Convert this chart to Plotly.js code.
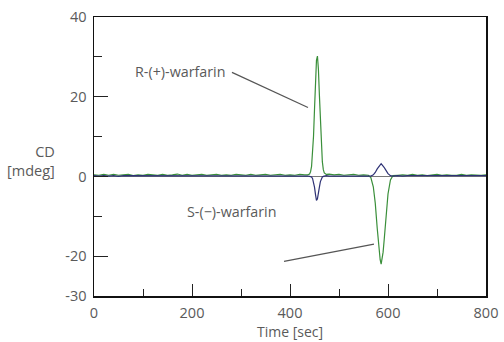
<!DOCTYPE html>
<html>
<head>
<meta charset="utf-8">
<script src="https://cdn.plot.ly/plotly-3.0.1.min.js"></script>
<style>html,body{margin:0;padding:0;background:#fff;}#chart{width:504px;height:342px;}</style>
</head>
<body>
<div id="chart"></div>
<script>
// Time axis (sec)
const timeSec = [
  0,10,20,30,40,50,60,70,80,90,100,110,120,130,140,150,160,170,180,190,200,210,220,230,240,250,260,270,280,290,300,310,320,330,340,350,360,370,380,390,400,410,420,430,
  436,440,442,444,446,448,450,452,454,456,458,460,462,464,466,468,470,474,480,
  490,500,510,520,530,540,550,560,
  565,570,574,578,580,582,584,586,588,590,592,594,596,600,605,610,
  620,630,640,650,660,670,680,690,700,710,720,730,740,750,760,770,780,790,800
];
// Green trace (CD, mdeg)
const greenCD = [
  0.4,0.3,0.5,0.3,0.5,0.3,0.4,0.5,0.2,0.4,
  0.3,0.5,0.4,0.3,0.5,0.3,0.4,0.6,0.3,0.5,
  0.3,0.4,0.5,0.3,0.4,0.5,0.3,0.4,0.3,0.5,
  0.4,0.3,0.5,0.3,0.4,0.5,0.3,0.4,0.5,0.3,
  0.4,0.3,0.5,0.4,
  0.4,0.6,1.2,2.5,5.3,10.1,16.8,23.9,29.1,30.2,26.9,20.4,13.3,7.5,3.7,1.7,0.9,0.5,0.6,
  0.4,0.5,0.3,0.4,0.5,0.3,0.4,0.3,
  -0.3,-2.6,-6.7,-13.0,-16.2,-19.0,-20.9,-22.0,-20.6,-19.0,-16.2,-13.0,-9.7,-4.4,-0.9,0.2,
  0.3,0.4,0.3,0.5,0.3,0.4,0.2,0.3,0.5,0.3,0.4,0.3,0.3,0.5,0.3,0.4,0.3,0.3,0.4
];
// Navy trace (CD, mdeg)
const navyCD = [
  0.2,0.1,0.2,0.1,0.2,0.0,0.2,0.2,0.1,0.1,
  0.2,0.1,0.2,0.1,0.2,0.1,0.1,0.2,0.1,0.2,
  0.1,0.2,0.1,0.2,0.1,0.2,0.1,0.2,0.2,0.1,
  0.2,0.1,0.1,0.2,0.2,0.1,0.2,0.1,0.1,0.2,
  0.1,0.2,0.1,0.2,
  0.1,0.0,-0.05,-0.15,-0.5,-1.3,-2.7,-4.5,-6.0,-5.6,-4.5,-2.7,-1.3,-0.5,-0.15,0.0,0.1,0.2,0.1,
  0.1,0.2,0.1,0.2,0.1,0.2,0.1,0.2,
  0.1,0.4,1.0,1.9,2.3,2.7,3.0,3.2,2.9,2.7,2.3,1.9,1.4,0.7,0.2,0.1,
  0.2,0.1,0.2,0.2,0.1,0.2,0.2,0.1,0.2,0.2,0.1,0.2,0.2,0.1,0.2,0.2,0.2,0.1,0.2
];
const xTickVals = [0,200,400,600,800];
const xMinorVals = [100,300,500,700];
const yTickVals = [-30,-20,0,20,40];
const yMinorVals = [-10,10,30];
const labelR = "R-(+)-warfarin";
const labelS = "S-(\u2212)-warfarin";

const FONT = "Open Sans, DejaVu Sans, sans-serif";
const GRAY = "#5a5a5a";

const traces = [
  {x: timeSec, y: greenCD, type: "scatter", mode: "lines",
   line: {color: "#3a8f3a", width: 1.2}, hoverinfo: "skip"},
  {x: timeSec, y: navyCD, type: "scatter", mode: "lines",
   line: {color: "#2e3275", width: 1.2}, hoverinfo: "skip"}
];

const layout = {
  width: 504, height: 342,
  margin: {l: 94, r: 18, t: 17, b: 45.5},
  paper_bgcolor: "#fff", plot_bgcolor: "#fff",
  showlegend: false,
  font: {family: FONT, color: GRAY, size: 14.5},
  xaxis: {
    range: [0, 800], tickvals: xTickVals, ticktext: xTickVals.map(String),
    ticks: "inside", ticklen: 12, tickwidth: 1, tickcolor: "#222",
    minor: {tickvals: xMinorVals, ticks: "inside", ticklen: 7, tickwidth: 1, tickcolor: "#222"},
    showline: true, linecolor: "#111", linewidth: 1.5, mirror: true,
    showgrid: false, zeroline: false,
    tickfont: {family: FONT, color: GRAY, size: 14.5},
    ticklabelstandoff: 3,
    title: {text: "Time [sec]", font: {family: FONT, color: GRAY, size: 14}, standoff: 4}
  },
  yaxis: {
    range: [-30, 40], tickvals: yTickVals, ticktext: yTickVals.map(String),
    ticks: "inside", ticklen: 14, tickwidth: 1, tickcolor: "#222",
    minor: {tickvals: yMinorVals, ticks: "inside", ticklen: 8, tickwidth: 1, tickcolor: "#222"},
    showline: true, linecolor: "#111", linewidth: 1.5, mirror: true,
    showgrid: false, zeroline: true, zerolinecolor: "#777", zerolinewidth: 1,
    tickfont: {family: FONT, color: GRAY, size: 14.5},
    ticklabelstandoff: 3
  },
  shapes: [
    {type: "line", xref: "x", yref: "y", x0: 281.6, y0: 26.1, x1: 436.7, y1: 17.3,
     line: {color: "#555", width: 1.2}},
    {type: "line", xref: "x", yref: "y", x0: 387.8, y0: -21.3, x1: 571.4, y1: -17.0,
     line: {color: "#555", width: 1.2}}
  ],
  annotations: [
    {text: labelR, xref: "x", yref: "y", x: 175.5, y: 26.3, showarrow: false,
     xanchor: "center", yanchor: "middle", font: {family: FONT, color: GRAY, size: 14.3}},
    {text: labelS, xref: "x", yref: "y", x: 281.6, y: -8.8, showarrow: false,
     xanchor: "center", yanchor: "middle", font: {family: FONT, color: GRAY, size: 14.3}},
    {text: "CD<br>[mdeg]", xref: "paper", yref: "y", x: -0.095, y: 3.8, showarrow: false,
     xanchor: "right", yanchor: "middle", align: "right",
     font: {family: FONT, color: GRAY, size: 14.5}}
  ]
};

Plotly.newPlot("chart", traces, layout, {displayModeBar: false, staticPlot: true});
</script>
</body>
</html>
